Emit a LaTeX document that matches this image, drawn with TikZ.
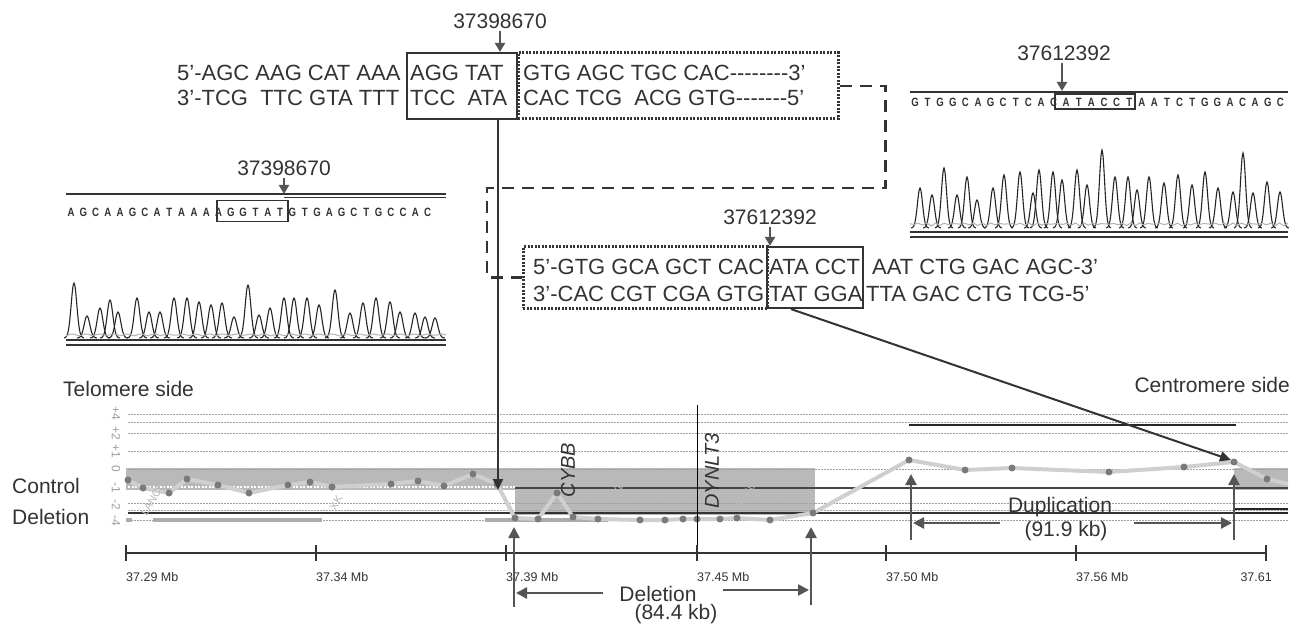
\documentclass[tikz,border=0pt]{standalone}
\usepackage{fontspec}
\setmainfont{Liberation Sans}
\usetikzlibrary{arrows.meta}
\definecolor{dk}{HTML}{333333}
\definecolor{ar}{HTML}{555555}
\definecolor{band}{HTML}{B9B9B9}
\definecolor{trace}{HTML}{CFCFCF}
\definecolor{dotc}{HTML}{7A7A7A}
\newcommand\hh{\mbox{-}}
\begin{document}
\begin{tikzpicture}[x=1pt,y=-1pt,
  seq/.style={font=\fontsize{22}{26}\selectfont, anchor=base west, inner sep=0pt, text=dk},
  lbl/.style={font=\fontsize{21}{25}\selectfont, inner sep=0pt, text=dk},
  solidbox/.style={draw=dk, line width=2.2pt, inner sep=0pt},
  dotbox/.style={draw=dk, line width=3pt, dash pattern=on 2pt off 1.5pt, inner sep=0pt},
  ptr/.style={draw=ar, line width=2.5pt, -{Triangle[length=9pt,width=10pt]}},
  bigarr/.style={draw=ar, line width=2.5pt, -{Triangle[length=11pt,width=11pt]}},
  conn/.style={draw=dk, line width=2pt, -{Triangle[length=11pt,width=10pt]}},
  dashconn/.style={draw=dk, line width=2.5pt, dash pattern=on 12pt off 8pt},
  gridl/.style={draw=gray!75, line width=1pt, dash pattern=on 1.5pt off 1.5pt},
  chrom/.style={draw=black!85, line width=1.1pt},
  seqsmall/.style={font=\fontsize{12}{13}\selectfont\bfseries, inner sep=0pt, text=dk, xscale=0.8},
  axlbl/.style={font=\fontsize{12.5}{14}\selectfont, inner sep=0pt, text=dk, anchor=west},
  ylbl/.style={font=\fontsize{12}{13}\selectfont, inner sep=0pt, text=gray!75, rotate=-90},
  faint/.style={font=\fontsize{11}{12}\selectfont, inner sep=0pt, text=gray!55, rotate=60},
  gene/.style={font=\fontsize{20}{22}\selectfont\itshape, inner sep=0pt, text=dk, rotate=90},
  pt/.style={circle, fill=dotc, inner sep=0pt, minimum size=7pt}
]
\fill[white] (0,0) rectangle (1304,631);
\useasboundingbox (0,0) rectangle (1304,631);

%% ---------- top sequence ----------
\node[solidbox, minimum width=110pt, minimum height=66pt] (boxA) at (462,86) {};
\node[dotbox, minimum width=320pt, minimum height=66pt] (boxB) at (678,86) {};
\node[seq] (t1a) at (177,81) {5’-AGC AAG CAT AAA};
\node[seq] (t1b) at (410,81) {AGG TAT};
\node[seq] (t1c) at (523,81) {GTG AGC TGC CAC\hh\hh\hh\hh\hh\hh\hh\hh3’};
\node[seq] (t2a) at (177,106) {3’-TCG~ TTC GTA TTT};
\node[seq] (t2b) at (410,106) {TCC~ ATA};
\node[seq] (t2c) at (523,106) {CAC TCG~ ACG GTG\hh\hh\hh\hh\hh\hh\hh5’};
\node[lbl] (labA) at (500,21) {37398670};
\draw[ptr] ([yshift=-2pt]labA.south) -- (labA.south |- boxA.north);

%% ---------- lower sequence ----------
\node[dotbox, minimum width=244pt, minimum height=61pt] (boxC) at (645,277.5) {};
\node[solidbox, minimum width=96pt, minimum height=61pt] (boxD) at (815,277.5) {};
\node[seq] (s1a) at (533,274) {5’-GTG GCA GCT CAC};
\node[seq] (s1b) at (769,274) {ATA CCT};
\node[seq] (s1c) at (872,274) {AAT CTG GAC AGC-3’};
\node[seq] (s2a) at (533,301) {3’-CAC CGT CGA GTG};
\node[seq] (s2b) at (769,301) {TAT GGA};
\node[seq] (s2c) at (866,301) {TTA GAC CTG TCG-5’};
\node[lbl] (labB) at (770,217) {37612392};
\draw[ptr] ([yshift=-2pt]labB.south) -- (labB.south |- boxD.north);

%% dashed link between the dotted boxes
\draw[dashconn] (boxB.east) -- ++(46,0) |- (487,188) |- (boxC.west);

%% ---------- left chromatogram ----------
\node[lbl] (labC) at (284,168) {37398670};
\coordinate (lcTop) at (284,194);
\draw[dk, line width=1.3pt] (66,194) -- (446,194);
\draw[dk, line width=1pt] (284,198) -- (446,198);
\draw[ptr] ([yshift=-2pt]labC.south) -- (lcTop);
\foreach \L [count=\i from 0] in {A,G,C,A,A,G,C,A,T,A,A,A,A,G,G,T,A,T,G,T,G,A,G,C,T,G,C,C,A,C}
  \node[seqsmall] (lc\i) at ({71+\i*12.3},212) {\L};
\node[draw=dk, line width=1.6pt, minimum width=71pt, minimum height=21pt, inner sep=0pt] (lbox) at (252.5,211) {};
\foreach \px/\py in {74/283,87/316,100/308,110/300,118/312,137/298,149/312,160/312,174/298,187/298,199/302,211/305,222/303,234/317,248/285,259/315,270/308,284/298,294/298,307/298,319/305,335/290,350/313,363/303,376/298,390/302,400/312,415/313,425/317,435/318}
  \draw[chrom] plot[variable=\t, domain=-10:10, samples=21, smooth] ({\px+\t},{338-(338-\py)*exp(-(\t*\t)/16)});
\draw[gray!60, line width=1pt] plot[variable=\t, domain=66:446, samples=90, smooth] (\t,{336-2*abs(sin((\t-60)*29))});
\draw[dk, line width=1.3pt] (66,340) -- (446,340);
\draw[dk, line width=1.3pt] (66,345) -- (446,345);

%% ---------- right chromatogram ----------
\node[lbl] (labD) at (1064,53) {37612392};
\coordinate (rcTop) at (1062,91);
\draw[dk, line width=1.5pt] (910,92) -- (1288,92);
\draw[ptr] ([xshift=-2pt,yshift=-2pt]labD.south) -- (rcTop);
\foreach \L [count=\i from 0] in {G,T,G,G,C,A,G,C,T,C,A,C,A,T,A,C,C,T,A,A,T,C,T,G,G,A,C,A,G,C}
  \node[seqsmall] (rc\i) at ({915+\i*12.6},102) {\L};
\node[draw=dk, line width=1.3pt, minimum width=80pt, minimum height=15pt, inner sep=0pt] (rbox) at (1095,101.5) {};
\foreach \px/\py in {920/188,932/195,944/168,957/195,967/177,977/200,993/188,1004/175,1020/172,1033/193,1039/170,1053/172,1062/180,1077/170,1087/185,1102/150,1115/177,1128/177,1137/190,1149/177,1164/183,1178/175,1192/185,1205/172,1218/188,1233/192,1243/153,1253/193,1267/182,1280/192}
  \draw[chrom] plot[variable=\t, domain=-9:9, samples=19, smooth] ({\px+\t},{228-(228-\py)*exp(-(\t*\t)/13)});
\draw[gray!60, line width=1pt] plot[variable=\t, domain=910:1288, samples=90, smooth] (\t,{226-3*abs(sin((\t-900)*23))});
\draw[dk, line width=1.3pt] (910,232) -- (1288,232);
\draw[dk, line width=1.3pt] (910,237) -- (1288,237);

%% ---------- CGH plot ----------
\node[lbl, anchor=west] (telo) at (63,389) {Telomere side};
\node[lbl, anchor=east] (centro) at (1290,385) {Centromere side};
\node[lbl, anchor=west] (ctrl) at (12,486) {Control};
\node[lbl, anchor=west] (dele) at (12,517) {Deletion};

\foreach \yy/\tt [count=\i] in {413/+4,433/+2,451/+1,469/0,488/-1,505/-2,521/-4}
  \node[ylbl] (yl\i) at (116,\yy) {\tt};

\fill[band] (126,468) rectangle (515,490);
\fill[band] (515,468) rectangle (815,515);
\fill[band] (1234,468) rectangle (1288,490);
\foreach \yy in {414,422,433,451,469,503,510,520}
  \draw[gridl] (128,\yy) -- (1288,\yy);
\draw[white, line width=1.2pt, dash pattern=on 2pt off 1.5pt] (128,487) -- (515,487);
\draw[gray!55!black, line width=1.5pt] (515,488) -- (1288,488);
\draw[black!80, line width=1.5pt] (128,513) -- (1288,513);
\draw[gray!65, line width=4pt] (153,520) -- (322,520);
\draw[gray!65, line width=4pt] (485,520) -- (608,520);
\draw[gray!65, line width=4pt] (126,520) -- (132,520);
\draw[black!85, line width=2pt] (909,425) -- (1236,425);
\draw[black!85, line width=1.5pt] (1234,509) -- (1288,509);
\draw[black!85, line width=1.5pt] (1234,513) -- (1288,513);

%% data trace
\draw[trace, line width=4pt, line join=round] (128,480) -- (143,488) -- (169,493) -- (187,479) -- (218,485) -- (249,493) -- (288,485) -- (310,482) -- (332,487) -- (391,484) -- (418,481) -- (444,486) -- (473,474) -- (497,484) -- (515,518) -- (538,519) -- (557,493) -- (573,517) -- (598,519) -- (640,520) -- (665,520) -- (683,519) -- (697,519) -- (720,519) -- (737,518) -- (770,520) -- (813,513) -- (909,460) -- (965,470) -- (1012,468) -- (1109,472) -- (1184,467) -- (1234,462) -- (1267,479) -- (1288,484);
\foreach \px/\py [count=\i] in {128/480,143/488,169/493,187/479,218/485,249/493,288/485,310/482,332/487,391/484,418/481,444/486,473/474,497/484,515/518,538/519,557/493,573/517,598/519,640/520,665/520,683/519,697/519,720/519,737/518,770/520,813/513,909/460,965/470,1012/468,1109/472,1184/467,1234/462,1267/479}
  \node[pt] (d\i) at (\px,\py) {};

%% gene labels
\node[faint] (g1) at (154,497) {LANCL3};
\node[faint] (g2) at (336,503) {XK};
\node[faint] (g3) at (618,489) {CYBB};
\node[faint] (g4) at (748,492) {DYNLT3};
\node[gene] (cybb) at (568,470) {CYBB};
\draw[black, line width=1pt] (697,405) -- (697,560);
\node[gene] (dynlt) at (712,471) {DYNLT3};

%% axis
\draw[dk, line width=1.5pt] (126,553) -- (1266,553);
\foreach \xx/\tt [count=\i] in {126/37.29 Mb,316/37.34 Mb,506/37.39 Mb,697/37.45 Mb,886/37.50 Mb,1076/37.56 Mb}{
  \draw[dk, line width=2pt] (\xx,545) -- (\xx,561);
  \node[axlbl] (ax\i) at (\xx,577) {\tt};
}
\draw[dk, line width=2pt] (1266,545) -- (1266,561);
\node[axlbl, anchor=east] (ax7) at (1272,577) {37.61};

%% deletion markers
\coordinate (delL) at (514,527);
\coordinate (delR) at (811,527);
\draw[bigarr] (514,607) -- (delL);
\draw[bigarr] (811,605) -- (delR);
\node[lbl] (dtxt) at (658,594) {Deletion};
\node[lbl] (dkb) at (676,614) {(84.4 kb)};
\draw[bigarr] (603,593) -- (516,593);
\draw[bigarr] (723,590) -- (809,590);

%% duplication markers
\coordinate (dupL) at (911,474);
\coordinate (dupR) at (1234,474);
\draw[bigarr] (911,540) -- (dupL);
\draw[bigarr] (1234,540) -- (dupR);
\node[lbl] (utxt) at (1060,507) {Duplication};
\node[lbl] (ukb) at (1066,531) {(91.9 kb)};
\draw[bigarr] (1000,523) -- (913,523);
\draw[bigarr] (1134,523) -- (1232,523);

%% connectors from the junction boxes to the plot
\coordinate (pA) at (498,490);
\coordinate (pB) at (1231,460);
\draw[conn] (boxA.south -| pA) -- (pA);
\draw[conn] ([xshift=-24pt]boxD.south) -- (pB);
\end{tikzpicture}
\end{document}
